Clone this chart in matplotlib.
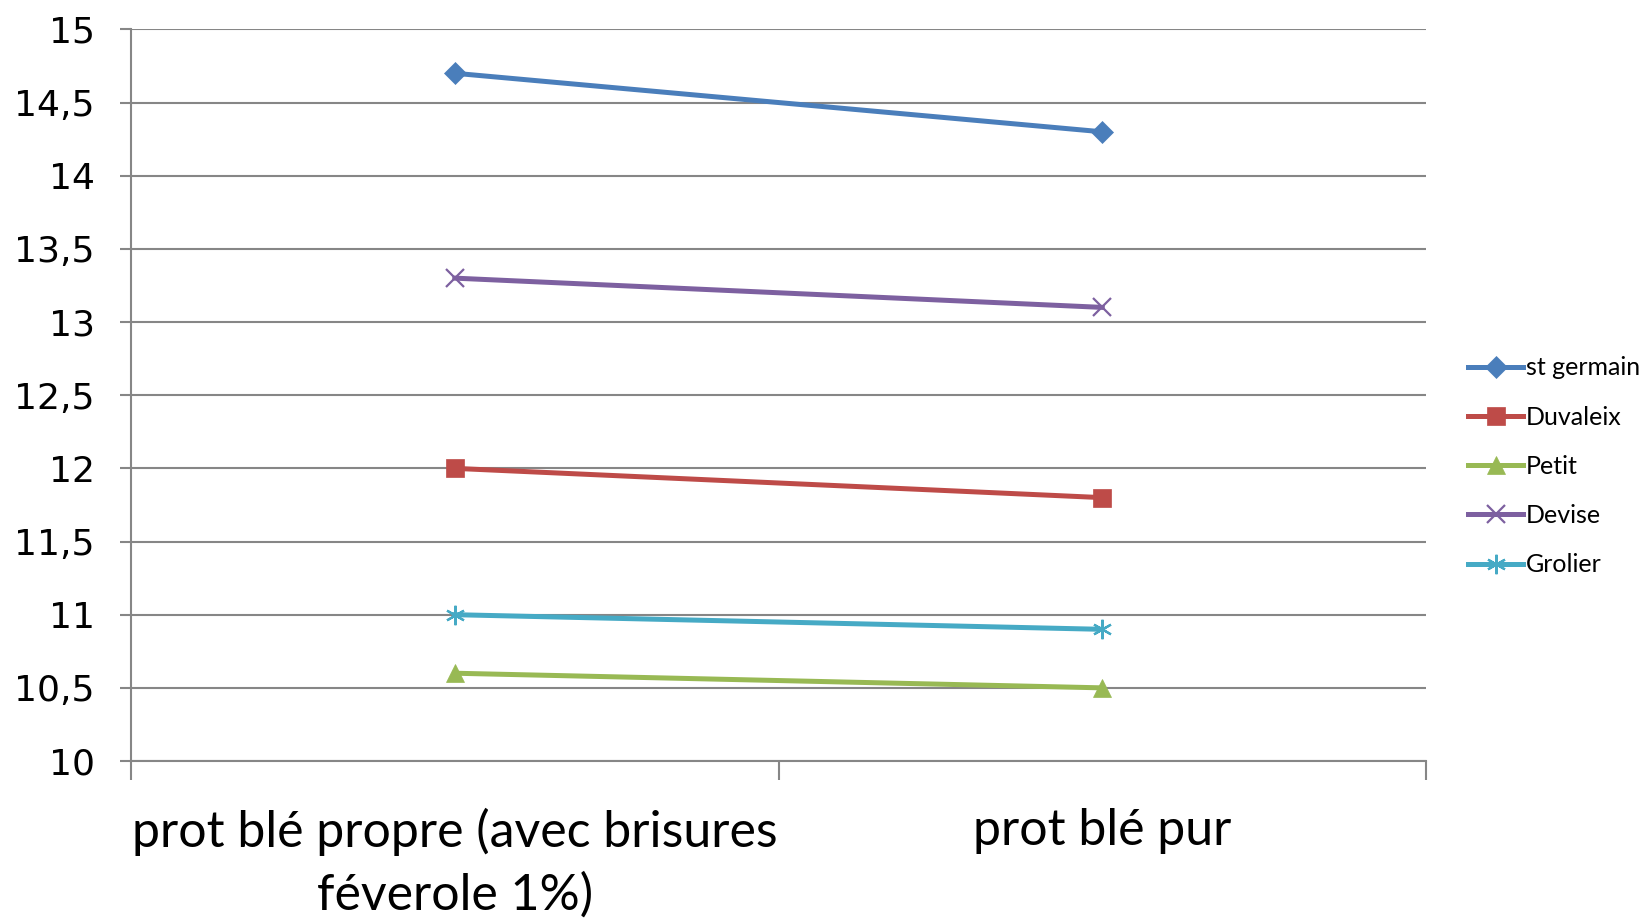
import matplotlib.pyplot as plt

categories = ["prot blé propre (avec brisures\nféverole 1%)", "prot blé pur"]
series_names = ["st germain", "Duvaleix", "Petit", "Devise", "Grolier"]
st_germain = [14.7, 14.3]
duvaleix = [12.0, 11.8]
petit = [10.6, 10.5]
devise = [13.3, 13.1]
grolier = [11.0, 10.9]
y_ticks = [10, 10.5, 11, 11.5, 12, 12.5, 13, 13.5, 14, 14.5, 15]

series = [st_germain, duvaleix, petit, devise, grolier]
colors = ['#4A7EBB', '#BE4B48', '#98B954', '#7D60A0', '#46AAC5']
markers = ['D', 's', '^', 'x', (6, 2, 0)]
msizes = [11, 13, 13, 13, 14]

fig = plt.figure(figsize=(16.44, 9.18), dpi=100)
ax = fig.add_axes([0.0797, 0.171, 0.7877, 0.797])

x = list(range(len(categories)))
for vals, name, c, m, ms in zip(series, series_names, colors, markers, msizes):
    ax.plot(x, vals, color=c, lw=3.6, marker=m, markersize=ms,
            markeredgewidth=1.6 if m in ('x', (6, 2, 0)) else 0.5,
            markeredgecolor=c, label=name)

ax.set_xlim(-0.5, len(categories) - 0.5)
ax.set_ylim(10, 15)
ax.set_yticks(y_ticks)
ax.set_yticklabels([('%g' % v).replace('.', ',') for v in y_ticks],
                   fontsize=26, family='DejaVu Sans')
ax.yaxis.grid(True, color='#868686', lw=1.5)
ax.set_axisbelow(True)

ax.set_xticks([i - 0.5 for i in range(len(categories) + 1)])
ax.set_xticklabels([])
ax.set_xticks(x, minor=True)
ax.set_xticklabels(categories, minor=True, fontsize=36, family='Lato',
                   linespacing=1.4)
ax.tick_params(axis='x', which='minor', length=0, pad=34)
ax.tick_params(axis='x', which='major', length=14, width=1.5, color='#868686')
ax.tick_params(axis='y', length=8, width=1.5, color='#868686', pad=18)

for s in ['top', 'right']:
    ax.spines[s].set_visible(False)
for s in ['left', 'bottom']:
    ax.spines[s].set_color('#868686')
    ax.spines[s].set_linewidth(1.5)

fig.legend(loc='center left', bbox_to_anchor=(0.893, 0.492), frameon=False,
           prop={'family': 'Lato', 'size': 18}, handlelength=2.2,
           handletextpad=0.1, labelspacing=1.05, borderpad=0,
           borderaxespad=0)

fig.savefig('out.png', dpi=100)
